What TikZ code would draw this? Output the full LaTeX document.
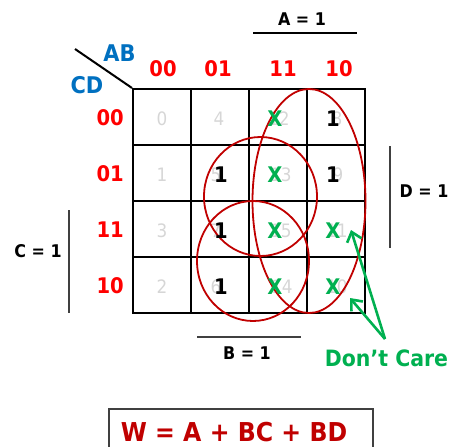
\documentclass[tikz,border=0pt]{standalone}
\usepackage{fontspec}
\setmainfont{DejaVu Sans}[FakeStretch=0.91]
\usetikzlibrary{arrows.meta}
\definecolor{kred}{HTML}{FF0000}
\definecolor{kblue}{HTML}{0070C0}
\definecolor{kgreen}{HTML}{00B050}
\definecolor{ringred}{HTML}{C00000}
\definecolor{numgray}{HTML}{D6D6D6}
\definecolor{bargray}{HTML}{404040}
\begin{document}
\begin{tikzpicture}[x=1pt,y=-1pt,
  cell/.style={draw,line width=2pt,minimum width=58pt,minimum height=56pt,inner sep=0pt},
  collbl/.style={text=kred,font=\fontsize{21.5}{25}\selectfont\bfseries,inner sep=0pt},
  varlbl/.style={text=kblue,font=\fontsize{23}{27}\selectfont\bfseries,inner sep=0pt},
  cellnum/.style={text=numgray,font=\fontsize{18.5}{22}\selectfont,inner sep=0pt},
  one/.style={text=black,font=\fontsize{21.5}{25}\selectfont\bfseries,inner sep=0pt},
  dc/.style={text=kgreen,font=\fontsize{21.5}{25}\selectfont\bfseries,inner sep=0pt},
  eqlbl/.style={text=black,font=\fontsize{17.5}{21}\selectfont\bfseries,inner sep=0pt},
  bar/.style={draw=bargray,line width=1.2pt},
  ring/.style={draw=ringred,line width=1.8pt},
  pointer/.style={draw=kgreen,line width=2.6pt,-{Straight Barb[length=9pt,width=15pt]}}
]
\useasboundingbox (0,0) rectangle (453,447);

% grid cells
\node[cell] (c0)  at (162,117) {};
\node[cell] (c4)  at (220,117) {};
\node[cell] (c12) at (278,117) {};
\node[cell] (c8)  at (336,117) {};
\node[cell] (c1)  at (162,173) {};
\node[cell] (c5)  at (220,173) {};
\node[cell] (c13) at (278,173) {};
\node[cell] (c9)  at (336,173) {};
\node[cell] (c3)  at (162,229) {};
\node[cell] (c7)  at (220,229) {};
\node[cell] (c15) at (278,229) {};
\node[cell] (c11) at (336,229) {};
\node[cell] (c2)  at (162,285) {};
\node[cell] (c6)  at (220,285) {};
\node[cell] (c14) at (278,285) {};
\node[cell] (c10) at (336,285) {};

% cell numbers
\node[cellnum] (n0)  at (162,119) {0};
\node[cellnum] (n4)  at (219,119) {4};
\node[cellnum] (n12) at (279,119) {12};
\node[cellnum] (n8)  at (337,119) {8};
\node[cellnum] (n1)  at (162,175) {1};
\node[cellnum] (n5)  at (216,175) {5};
\node[cellnum] (n13) at (281,175) {13};
\node[cellnum] (n9)  at (338,175) {9};
\node[cellnum] (n3)  at (162,231) {3};
\node[cellnum] (n7)  at (216,231) {7};
\node[cellnum] (n15) at (281,231) {15};
\node[cellnum] (n11) at (337,231) {11};
\node[cellnum] (n2)  at (162,287) {2};
\node[cellnum] (n6)  at (216,287) {6};
\node[cellnum] (n14) at (282,287) {14};
\node[cellnum] (n10) at (337,287) {10};

% groups
\draw[ring] (309,201) ellipse [x radius=56.5, y radius=112];
\draw[ring] (260.5,196.5) ellipse [x radius=56.5, y radius=59.5];
\draw[ring] (253,261) ellipse [x radius=56, y radius=60];

% values
\node[dc]  (v12) at (275,119) {X};
\node[one] (v8)  at (333,119) {1};
\node[one] (v5)  at (221,175) {1};
\node[dc]  (v13) at (275,175) {X};
\node[one] (v9)  at (333,175) {1};
\node[one] (v7)  at (221,231) {1};
\node[dc]  (v15) at (275,231) {X};
\node[dc]  (v11) at (333,231) {X};
\node[one] (v6)  at (221,287) {1};
\node[dc]  (v14) at (275,287) {X};
\node[dc]  (v10) at (333,287) {X};

% corner
\coordinate (diagstart) at (75,49);
\draw[line width=2pt] (diagstart) -- (c0.north west);
\node[varlbl] (ab) at (119.5,53.5) {AB};
\node[varlbl] (cd) at (87,85) {CD};

% column labels
\node[collbl] (k00) at (163,69) {00};
\node[collbl] (k01) at (218,69) {01};
\node[collbl] (k11) at (283,69) {11};
\node[collbl] (k10) at (339,69) {10};
% row labels
\node[collbl,anchor=east] (r00) at (124,118) {00};
\node[collbl,anchor=east] (r01) at (124,174) {01};
\node[collbl,anchor=east] (r11) at (124,230) {11};
\node[collbl,anchor=east] (r10) at (124,286) {10};

% variable bars
\node[eqlbl] (aeq) at (302,19) {A = 1};
\coordinate (abarL) at (253,33);
\coordinate (abarR) at (357,33);
\draw[line width=1.2pt] (abarL) -- (abarR);

\node[eqlbl] (deq) at (424,191) {D = 1};
\coordinate (dbarT) at (390,146);
\coordinate (dbarB) at (390,248);
\draw[bar] (dbarT) -- (dbarB);

\node[eqlbl] (ceq) at (38,251) {C = 1};
\coordinate (cbarT) at (69,210);
\coordinate (cbarB) at (69,313);
\draw[bar] (cbarT) -- (cbarB);

\node[eqlbl] (beq) at (247,353) {B = 1};
\coordinate (bbarL) at (197,337);
\coordinate (bbarR) at (301,337);
\draw[bar] (bbarL) -- (bbarR);

% don't care pointer
\node[text=kgreen,font=\fontsize{22.5}{27}\selectfont\bfseries,inner sep=0pt] (dctxt) at (386.5,358) {Don’t Care};
\coordinate (dcfrom) at (385,339);
\coordinate (tip11) at (351,230);
\coordinate (tip10) at (350,298);
\draw[pointer] (dcfrom) -- (tip11);
\draw[pointer] (dcfrom) -- (tip10);

% result
\node[text=ringred,font=\fontsize{26}{30}\selectfont\bfseries,inner sep=0pt] (res) at (234,432) {W = A + BC + BD};
\coordinate (boxBL) at (109,447);
\coordinate (boxTL) at (109,409);
\coordinate (boxTR) at (373,409);
\coordinate (boxBR) at (373,447);
\draw[line width=1.5pt,draw=bargray] (boxBL) -- (boxTL) -- (boxTR) -- (boxBR);
\end{tikzpicture}
\end{document}
